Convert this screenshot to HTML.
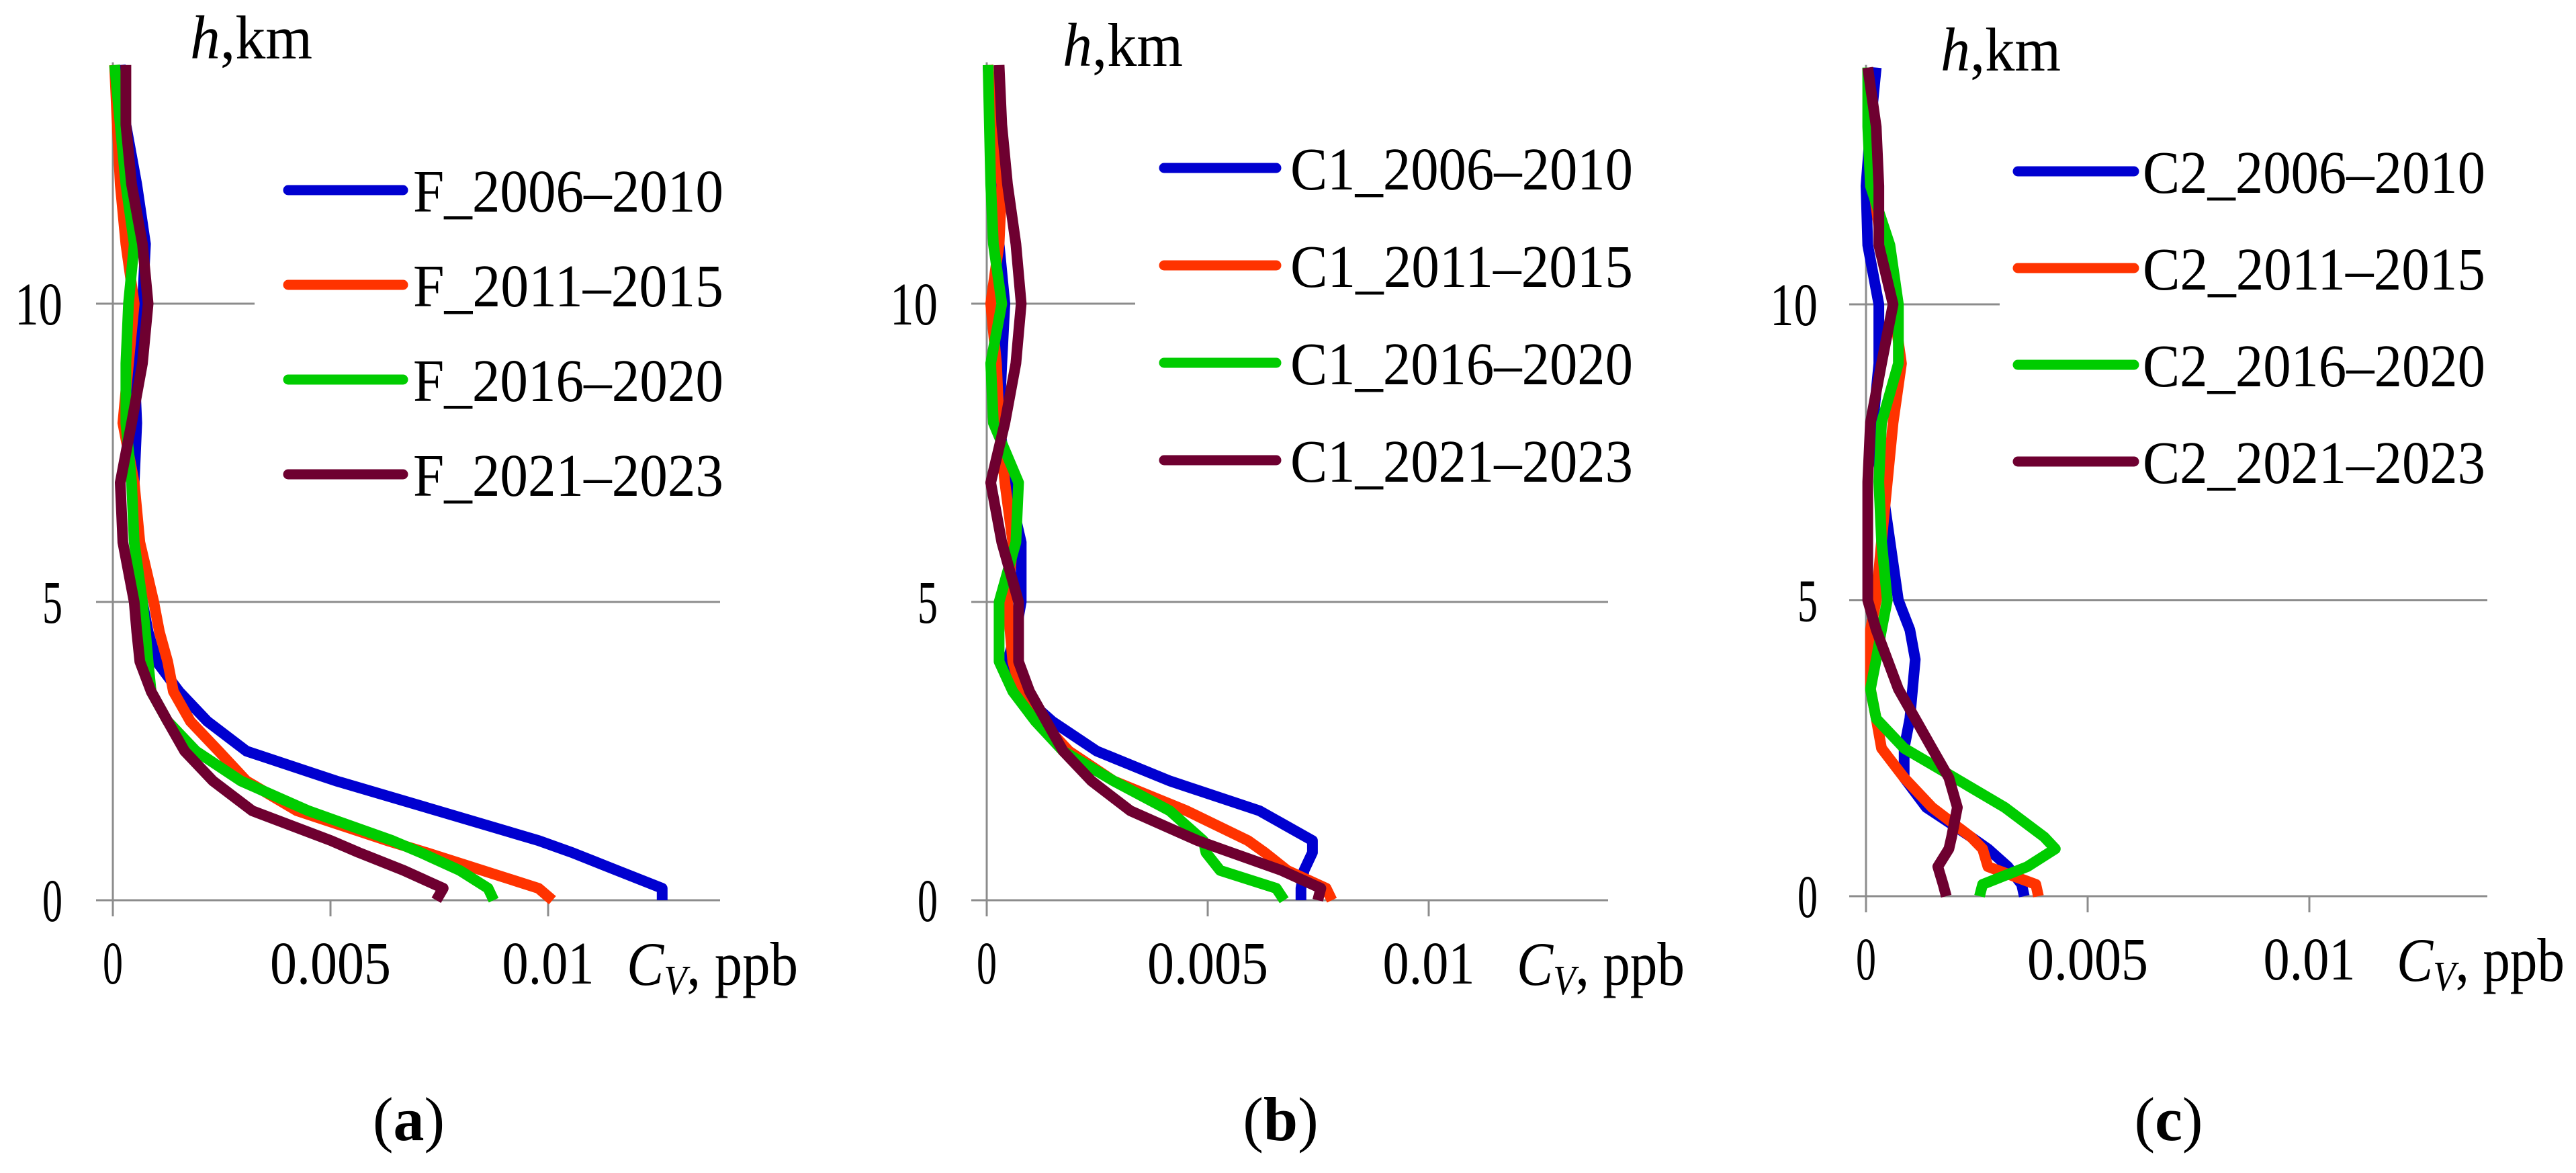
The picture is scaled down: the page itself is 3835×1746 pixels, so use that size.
<!DOCTYPE html>
<html><head><meta charset="utf-8"><style>
html,body{margin:0;padding:0;background:#fff;}
svg{display:block;font-family:"Liberation Serif",serif;}
</style></head><body>
<svg id="fig" width="3835" height="1746" viewBox="0 0 3835 1746" xmlns="http://www.w3.org/2000/svg"></svg>
<script>
const heights=[0,0.2,0.5,0.8,1,1.5,2,2.5,3,3.5,4,4.5,5,6,7,8,9,10,11,12,13,14];
const seriesNames=["2006–2010","2011–2015","2016–2020","2021–2023"];
const xTicks=[0,0.005,0.01];
const xTickLabels=["0","0.005","0.01"];
const yTicks=[0,5,10];
const yTickLabels=["0","5","10"];
const aBlue=[0.01262,0.01262,0.01158,0.01055,0.00978,0.00746,0.00513,0.00307,0.00217,0.00152,0.00101,0.00081,0.00068,0.00055,0.00049,0.00055,0.00049,0.00068,0.00075,0.00055,0.0003,0.00017];
const aOrange=[0.0101,0.00978,0.00849,0.0072,0.0063,0.00423,0.00307,0.00243,0.00178,0.00139,0.00126,0.00107,0.00094,0.00062,0.00049,0.00023,0.00036,0.00049,0.0003,0.00017,0.0001,0.00004];
const aGreen=[0.00875,0.00862,0.00797,0.00707,0.00642,0.00449,0.00294,0.00191,0.00126,0.00088,0.00081,0.00075,0.00068,0.00049,0.00043,0.0003,0.0003,0.00036,0.00049,0.0003,0.00017,0.00004];
const aMaroon=[0.00743,0.00759,0.00668,0.00565,0.00501,0.0032,0.0023,0.00165,0.00126,0.00088,0.00062,0.00055,0.00049,0.00023,0.00017,0.00043,0.00068,0.00081,0.00068,0.00043,0.0003,0.0003];
const bBlue=[0.00711,0.00711,0.00718,0.00737,0.00737,0.00617,0.00414,0.00249,0.00148,0.00072,0.00047,0.00066,0.00078,0.00078,0.00047,0.00028,0.00034,0.00041,0.00028,0.00015,0.00009,0.00003];
const bOrange=[0.00781,0.00768,0.0068,0.00629,0.00591,0.00452,0.00287,0.00186,0.00123,0.00078,0.00059,0.00053,0.00047,0.00059,0.00041,0.00028,0.00022,0.00009,0.00028,0.00034,0.00015,0.00003];
const bGreen=[0.00673,0.00655,0.00528,0.00496,0.0049,0.00414,0.00287,0.00173,0.0011,0.00059,0.00028,0.00028,0.00028,0.00066,0.00072,0.00015,0.00009,0.00034,0.00015,0.00009,0.00006,0.00003];
const bMaroon=[0.00749,0.00756,0.00667,0.00553,0.00477,0.00325,0.00237,0.00173,0.00135,0.00097,0.00072,0.00072,0.00072,0.00034,0.00009,0.00041,0.00066,0.00078,0.00066,0.00047,0.00034,0.00028];
const cBlue=[0.00357,0.00351,0.0032,0.00275,0.00237,0.00136,0.00086,0.00086,0.00099,0.00105,0.00111,0.00099,0.00073,0.00054,0.00035,0.00016,0.00029,0.00029,0.00004,0,0.0001,0.00023];
const cOrange=[0.00389,0.00383,0.00275,0.00263,0.00237,0.00149,0.00086,0.00035,0.00023,0.0001,0.0001,0.0001,0.00023,0.00035,0.00048,0.00061,0.0008,0.00061,0.00035,0.00016,0.0001,0.00004];
const cGreen=[0.00256,0.00263,0.00364,0.00427,0.00402,0.00313,0.002,0.00086,0.00023,0.0001,0.00023,0.00035,0.00048,0.00035,0.00029,0.00035,0.00073,0.00073,0.00054,0.0001,0.00004,0.00004];
const cMaroon=[0.00181,0.00174,0.00162,0.00187,0.00193,0.00206,0.00187,0.00149,0.00111,0.00073,0.00048,0.00023,0.00004,0.00004,0.00004,0.0001,0.00035,0.00061,0.00029,0.00029,0.00023,0.00004];
const colors=["#0000d0","#ff3300","#00cc00","#6e0030"];

const NS="http://www.w3.org/2000/svg";
const svg=document.getElementById('fig');
function mk(tag,attrs,parent){const e=document.createElementNS(NS,tag);for(const k in attrs)e.setAttribute(k,attrs[k]);(parent||svg).appendChild(e);return e;}

const panels=[
 {id:"a",prefix:"F_",data:[aBlue,aOrange,aGreen,aMaroon],x0:168,xs:324,y0:1340,ys:88.8,right:1072,g10:379,gl:143,
  ylEnd:93,cv:[933,1188],hkm:[283,87,465],lab:[565,652],leg:[429,600,615,1077,283,141]},
 {id:"b",prefix:"C1_",data:[bBlue,bOrange,bGreen,bMaroon],x0:1469,xs:329,y0:1340,ys:88.8,right:2394,g10:1690,gl:1446,
  ylEnd:1396,cv:[2258,2508],hkm:[1582,98,1761],lab:[1857,1956],leg:[1733,1900,1921,2431,250,145]},
 {id:"c",prefix:"C2_",data:[cBlue,cOrange,cGreen,cMaroon],x0:2778,xs:330,y0:1334,ys:88.1,right:3703,g10:2977,gl:2753,
  ylEnd:2706,cv:[3568,3818],hkm:[2889,105,3068],lab:[3185,3272],leg:[3004,3177,3190,3700,255,144]}
];
const xw=[0,180,137];
const yw=[30,30,71];
panels.forEach(p=>{
  const X=v=>p.x0+v/0.005*p.xs;
  const Y=h=>p.y0-h*p.ys;
  const g=mk('g',{});
  
  
  yTicks.forEach((t,i)=>{
    const x2=t===10?p.g10:p.right;
    const l=mk('line',{x1:p.gl,x2:x2,y1:Y(t),y2:Y(t),stroke:'#8c8c8c','stroke-width':3},g);
    
    
    const tx=mk('text',{x:p.ylEnd,y:Y(t)+31,'text-anchor':'end','font-size':90,textLength:yw[i],lengthAdjust:'spacingAndGlyphs'},g);
    tx.textContent=yTickLabels[i];
    
    
  });
  const ya=mk('line',{x1:p.x0,x2:p.x0,y1:Y(14)-4,y2:p.y0+24,stroke:'#8c8c8c','stroke-width':3},g);
  
  
  xTicks.forEach((t,i)=>{
    if(i>0){const tk=mk('line',{x1:X(t),x2:X(t),y1:p.y0,y2:p.y0+24,stroke:'#8c8c8c','stroke-width':3},g);
      
      }
    const attrs={x:X(t),y:p.y0+124,'text-anchor':'middle','font-size':90};
    attrs.textLength=xw[i]||30;attrs.lengthAdjust='spacingAndGlyphs';
    const tx=mk('text',attrs,g);
    tx.textContent=xTickLabels[i];
    
    
  });
  p.data.forEach((vals,si)=>{
    const d=vals.map((v,i)=>(i?'L':'M')+X(v).toFixed(1)+' '+Y(heights[i]).toFixed(1)).join(' ');
    const path=mk('path',{d:d,fill:'none',stroke:colors[si],'stroke-width':16,'stroke-linejoin':'round','stroke-linecap':'butt'},g);
    
    
  });
  const L=p.leg;
  seriesNames.forEach((n,si)=>{
    const yy=L[4]+si*L[5];
    const ln=mk('line',{x1:L[0],x2:L[1],y1:yy,y2:yy,stroke:colors[si],'stroke-width':15,'stroke-linecap':'round'},g);
    
    
    const tx=mk('text',{x:L[2],y:yy+32,'font-size':90,textLength:L[3]-L[2],lengthAdjust:'spacingAndGlyphs'},g);
    tx.textContent=p.prefix+n;
    
    
  });
  const hk=mk('text',{x:p.hkm[0],y:p.hkm[1],'font-size':92,textLength:p.hkm[2]-p.hkm[0],lengthAdjust:'spacingAndGlyphs'},g);
  hk.innerHTML='<tspan font-style="italic">h</tspan>,km';
  
  
  const cv=mk('text',{x:p.cv[0],y:p.y0+126,'font-size':92,textLength:p.cv[1]-p.cv[0],lengthAdjust:'spacingAndGlyphs'},g);
  cv.innerHTML='<tspan font-style="italic">C</tspan><tspan font-style="italic" font-size="62" dy="14">V</tspan><tspan dy="-14">, ppb</tspan>';
  
  
  const lb=mk('text',{x:(p.lab[0]+p.lab[1])/2,y:1697,'font-size':92,'text-anchor':'middle'},g);
  lb.innerHTML='(<tspan font-weight="bold">'+p.id+'</tspan>)';
  
  
});
</script>
</body></html>
